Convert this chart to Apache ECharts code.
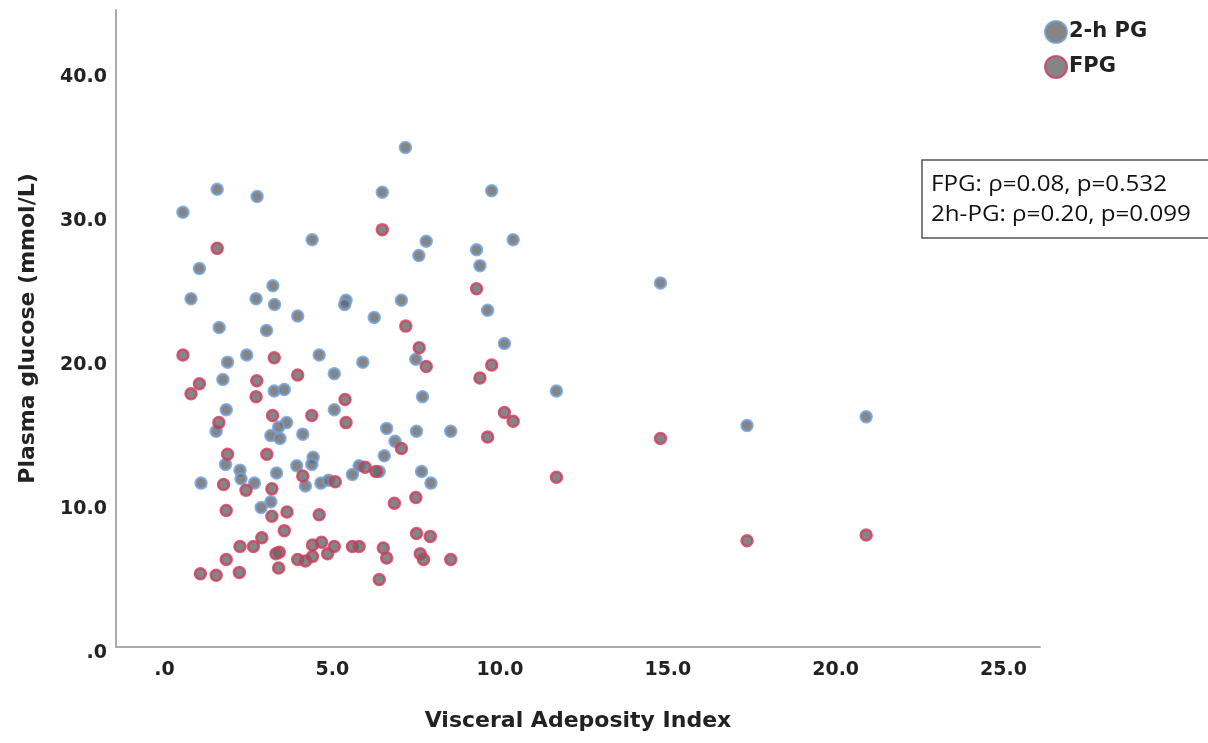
<!DOCTYPE html>
<html>
<head>
<meta charset="utf-8">
<script src="https://cdn.jsdelivr.net/npm/echarts@6/dist/echarts.min.js"></script>
<style>
html, body { margin: 0; padding: 0; background: #fff; }
#main { width: 1208px; height: 743px; }
</style>
</head>
<body>
<div id="main"></div>
<script>
// 2-h PG: [VAI, glucose]
var pg2h = [
    [0.55, 30.6], [1.57, 32.2], [2.76, 31.7], [6.49, 32.0], [7.18, 35.1], [9.75, 32.1],
    [4.40, 28.7], [7.80, 28.6], [7.58, 27.6], [10.39, 28.7], [9.30, 28.0], [9.40, 26.9],
    [1.04, 26.7], [0.79, 24.6], [3.23, 25.5], [2.73, 24.6], [3.28, 24.2], [5.41, 24.5],
    [5.37, 24.2], [7.06, 24.5], [3.97, 23.4], [6.25, 23.3], [9.63, 23.8], [14.78, 25.7],
    [1.63, 22.6], [3.04, 22.4], [2.45, 20.7], [1.88, 20.2], [4.61, 20.7], [5.91, 20.2],
    [7.49, 20.4], [10.13, 21.5], [1.74, 19.0], [5.06, 19.4], [3.27, 18.2], [3.57, 18.3],
    [7.69, 17.8], [11.68, 18.2], [1.84, 16.9], [5.06, 16.9], [1.54, 15.4], [3.64, 16.0],
    [3.40, 15.7], [3.17, 15.1], [3.44, 14.9], [4.12, 15.2], [6.62, 15.6], [7.51, 15.4],
    [8.53, 15.4], [6.87, 14.7], [6.55, 13.7], [1.82, 13.1], [2.25, 12.7], [2.28, 12.1],
    [2.68, 11.8], [1.09, 11.8], [3.34, 12.5], [3.94, 13.0], [4.43, 13.6], [4.39, 13.1],
    [4.20, 11.6], [4.66, 11.8], [4.89, 12.0], [5.60, 12.4], [5.80, 13.0], [6.40, 12.6],
    [7.66, 12.6], [7.94, 11.8], [3.17, 10.5], [2.88, 10.1], [17.36, 15.8], [20.91, 16.4]
];
// FPG: [VAI, glucose]
var fpg = [
    [6.49, 29.4], [1.57, 28.1], [9.30, 25.3], [7.19, 22.7], [0.55, 20.7], [3.27, 20.5],
    [7.59, 21.2], [7.80, 19.9], [9.75, 20.0], [1.04, 18.7], [0.79, 18.0], [2.75, 18.9],
    [3.97, 19.3], [9.40, 19.1], [2.73, 17.8], [5.38, 17.6], [3.22, 16.5], [4.39, 16.5],
    [5.41, 16.0], [1.62, 16.0], [10.13, 16.7], [10.39, 16.1], [9.63, 15.0], [14.78, 14.9],
    [7.06, 14.2], [1.88, 13.8], [3.05, 13.8], [4.12, 12.3], [5.09, 11.9], [5.98, 12.9],
    [6.30, 12.6], [2.43, 11.3], [1.76, 11.7], [3.20, 11.4], [11.68, 12.2], [7.49, 10.8],
    [6.85, 10.4], [1.84, 9.9], [3.65, 9.8], [3.20, 9.5], [4.61, 9.6], [3.57, 8.5],
    [2.90, 8.0], [2.65, 7.4], [2.25, 7.4], [1.84, 6.5], [1.07, 5.5], [1.54, 5.4],
    [2.23, 5.6], [3.40, 5.9], [3.42, 7.0], [3.32, 6.9], [3.97, 6.5], [4.20, 6.4],
    [4.41, 6.7], [4.41, 7.5], [4.68, 7.7], [4.86, 6.9], [5.06, 7.4], [5.60, 7.4],
    [5.80, 7.4], [6.52, 7.3], [6.62, 6.6], [6.40, 5.1], [7.51, 8.3], [7.92, 8.1],
    [7.62, 6.9], [7.72, 6.5], [8.53, 6.5], [17.36, 7.8], [20.91, 8.2]
];
var xTicks = [0, 5, 10, 15, 20, 25];
// the y axis starts just above 0 (axis line sits a bit above the ".0" label)
var yMin = 0.42;
var yTicks = [yMin, 10, 20, 30, 40];
var statLines = ['FPG: ρ=0.08, p=0.532', '2h-PG: ρ=0.20, p=0.099'];

var labelFont = {
    fontFamily: '"DejaVu Sans", sans-serif',
    fontWeight: 'bold',
    color: '#222'
};

function fmtX(v) {
    return v === 0 ? '.0' : v.toFixed(1);
}
function fmtY(v) {
    return v < 1 ? '{z|.0}' : v.toFixed(1);
}

var chart = echarts.init(document.getElementById('main'));
chart.setOption({
    animation: false,
    backgroundColor: '#fff',
    grid: { left: 116, right: 168, top: 10, bottom: 96 },
    legend: {
        data: ['2-h PG', 'FPG'],
        orient: 'vertical',
        left: 1044,
        top: 20,
        padding: 0,
        itemWidth: 22,
        itemHeight: 22,
        itemGap: 11,
        icon: 'circle',
        textStyle: Object.assign({ fontSize: 21, padding: [0, 0, 0, -3] }, labelFont)
    },
    xAxis: {
        type: 'value',
        min: -1.445,
        max: 26.09,
        name: 'Visceral Adeposity Index',
        nameLocation: 'middle',
        nameGap: 63,
        nameTextStyle: Object.assign({ fontSize: 22 }, labelFont),
        axisLine: { show: true, onZero: false, lineStyle: { color: '#ababab', width: 2 } },
        axisTick: { show: false, customValues: xTicks },
        splitLine: { show: false },
        axisLabel: Object.assign({ customValues: xTicks, fontSize: 19, margin: 14, formatter: fmtX }, labelFont)
    },
    yAxis: {
        type: 'value',
        min: yMin,
        max: 44.65,
        name: 'Plasma glucose (mmol/L)',
        nameLocation: 'middle',
        nameGap: 77,
        nameTextStyle: Object.assign({ fontSize: 22 }, labelFont),
        axisLine: { show: true, onZero: false, lineStyle: { color: '#ababab', width: 2 } },
        axisTick: { show: false, customValues: yTicks },
        splitLine: { show: false },
        axisLabel: Object.assign({
            customValues: yTicks,
            fontSize: 19,
            margin: 9,
            formatter: fmtY,
            rich: { z: Object.assign({ fontSize: 19, padding: [12, 0, 0, 0] }, labelFont) }
        }, labelFont)
    },
    series: [
        {
            name: '2-h PG',
            type: 'scatter',
            data: pg2h,
            symbolSize: 11,
            itemStyle: { color: '#666', borderColor: '#6f9dd6', borderWidth: 2.5 }
        },
        {
            name: 'FPG',
            type: 'scatter',
            data: fpg,
            symbolSize: 11,
            itemStyle: { color: '#666', borderColor: '#d1385b', borderWidth: 2.5 }
        }
    ],
    graphic: [
        {
            type: 'rect',
            shape: { x: 922, y: 160, width: 300, height: 78 },
            style: { fill: '#fff', stroke: '#555', lineWidth: 1.5 }
        },
        {
            type: 'text',
            x: 931, y: 185, scaleX: 1.15,
            style: { text: statLines[0], font: '21px "Open Sans", sans-serif', fill: '#111', verticalAlign: 'middle' }
        },
        {
            type: 'text',
            x: 931, y: 215, scaleX: 1.15,
            style: { text: statLines[1], font: '21px "Open Sans", sans-serif', fill: '#111', verticalAlign: 'middle' }
        }
    ]
});
</script>
</body>
</html>
